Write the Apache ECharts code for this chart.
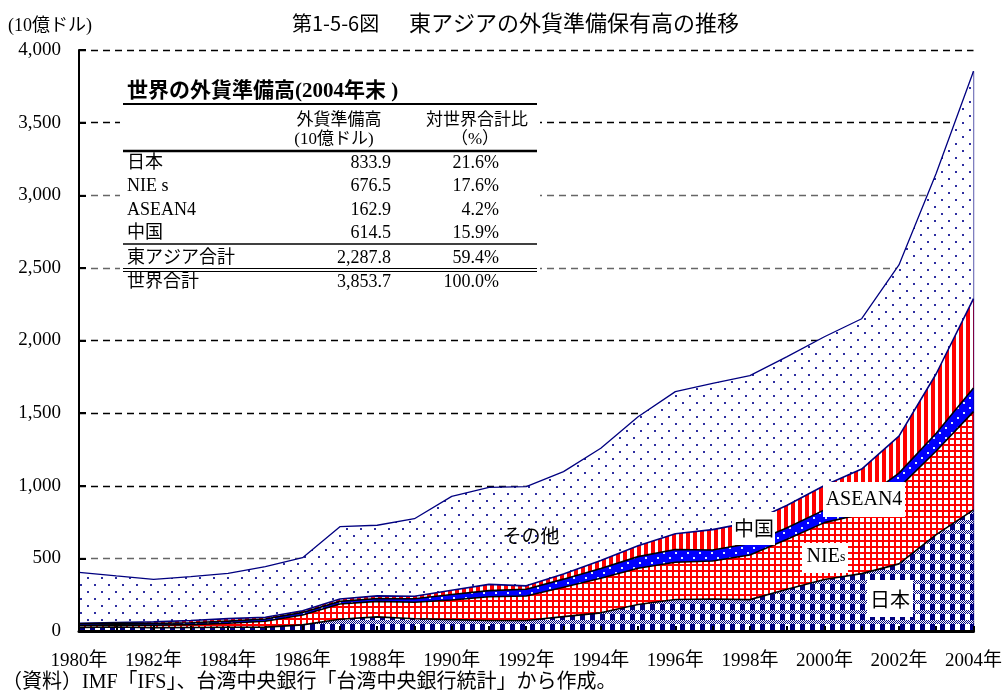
<!DOCTYPE html>
<html>
<head>
<meta charset="utf-8">
<script src="https://cdn.jsdelivr.net/npm/echarts@6/dist/echarts.min.js"></script>
<style>
html, body { margin: 0; padding: 0; background: #fff; }
#main { width: 1005px; height: 692px; }
</style>
</head>
<body>
<div id="main"></div>
<script>
// 東アジアの外貨準備保有高（10億ドル）
var years = ['1980年', '1981年', '1982年', '1983年', '1984年', '1985年', '1986年', '1987年', '1988年',
	'1989年', '1990年', '1991年', '1992年', '1993年', '1994年', '1995年', '1996年', '1997年',
	'1998年', '1999年', '2000年', '2001年', '2002年', '2003年', '2004年'];
var japan = [25, 28, 23, 24, 26, 27, 42, 81, 97, 84, 78, 72, 72, 99, 125, 183, 217, 220, 216, 288, 355, 395, 462, 663, 833.9];
var nies = [13, 14, 17, 20, 27, 40, 68, 105, 107, 114, 135, 164, 169, 202, 238, 249, 256, 262, 307, 343, 391, 410, 525, 576, 676.5];
var asean4 = [12, 12, 12, 13, 15, 16, 18, 18, 20, 24, 38, 42, 46, 56, 68, 80, 88, 76, 80, 80, 88, 95, 100, 122, 162.9];
var china = [3, 5, 11, 15, 17, 12, 11, 16, 18, 17, 29, 43, 24, 35, 55, 75, 108, 140, 145, 155, 168, 215, 255, 410, 614.5];
var others = [351, 320, 293, 302, 312, 348, 366, 498, 486, 534, 647, 668, 683, 705, 772, 888, 979, 1007, 1010, 1023, 1024, 1035, 1178, 1380, 1565.9];

// 表：世界の外貨準備高(2004年末)
var tableNames = ['日本', 'NIE s', 'ASEAN4', '中国', '東アジア合計', '世界合計'];
var tableValues = ['833.9', '676.5', '162.9', '614.5', '2,287.8', '3,853.7'];
var tableShares = ['21.6%', '17.6%', '4.2%', '15.9%', '59.4%', '100.0%'];

var serif = "'Liberation Serif', 'Noto Sans CJK JP', serif";
var gothic = "'Noto Sans CJK JP', sans-serif";

function tile(w, h, draw) {
	var c = document.createElement('canvas');
	c.width = w;
	c.height = h;
	draw(c.getContext('2d'));
	return { image: c, repeat: 'repeat' };
}

var fillJapan = tile(10, 10, function(ctx) {
	ctx.fillStyle = '#fff';
	ctx.fillRect(0, 0, 10, 10);
	ctx.fillStyle = '#000080';
	for (var y = 0; y < 4; y++) {
		for (var x = 0; x < 10; x++) {
			if ((x + y) % 2 == 0) ctx.fillRect(x, y, 1, 1);
		}
	}
	ctx.fillRect(0, 4, 5, 6);
});
var fillNies = tile(6, 6, function(ctx) {
	ctx.fillStyle = '#fff';
	ctx.fillRect(0, 0, 6, 6);
	ctx.fillStyle = '#ff0000';
	ctx.fillRect(0, 0, 2, 6);
	ctx.fillRect(0, 0, 6, 2);
});
var fillAsean = tile(12, 10, function(ctx) {
	ctx.fillStyle = '#0000ff';
	ctx.fillRect(0, 0, 12, 10);
	ctx.fillStyle = '#ddeeff';
	ctx.fillRect(3, 2, 2, 2);
	ctx.fillRect(9, 7, 2, 2);
});
var fillChina = tile(7, 4, function(ctx) {
	ctx.fillStyle = '#fff';
	ctx.fillRect(0, 0, 7, 4);
	ctx.fillStyle = '#ff0000';
	ctx.fillRect(0, 0, 4, 4);
});
var fillOthers = tile(14, 14, function(ctx) {
	ctx.fillStyle = '#fff';
	ctx.fillRect(0, 0, 14, 14);
	ctx.fillStyle = '#2e2ea0';
	ctx.fillRect(3, 3, 2, 2);
	ctx.fillRect(10, 10, 2, 2);
});

function areaSeries(name, data, fill, lineColor, z) {
	return {
		name: name,
		type: 'line',
		stack: 'total',
		data: data,
		symbol: 'none',
		z: z,
		lineStyle: { color: lineColor, width: 1.6 },
		areaStyle: { color: fill, opacity: 1 },
		emphasis: { disabled: true },
		silent: true
	};
}

var chart = echarts.init(document.getElementById('main'));

var last = years.length - 1;
var world2004 = japan[last] + nies[last] + asean4[last] + china[last] + others[last];

var seriesOthers = areaSeries('その他', others, fillOthers, '#000080', 6);
seriesOthers.lineStyle.width = 1.3;
seriesOthers.markLine = {
	silent: true,
	symbol: 'none',
	label: { show: false },
	lineStyle: { color: '#000080', width: 1.3, type: 'solid' },
	data: [[{ coord: [years[last], 0] }, { coord: [years[last], world2004] }]]
};

function txt(x, y, text, font, align, extra) {
	var el = {
		type: 'text',
		x: x,
		y: y,
		z: 100,
		style: {
			text: text,
			font: font,
			fill: '#000',
			align: align || 'left',
			textAlign: align || 'left',
			verticalAlign: 'middle',
			textVerticalAlign: 'middle'
		}
	};
	if (extra) {
		for (var k in extra) el.style[k] = extra[k];
	}
	return el;
}
function hline(x1, x2, y, w) {
	return {
		type: 'line', z: 100,
		shape: { x1: x1, y1: y, x2: x2, y2: y },
		style: { stroke: '#000', lineWidth: w }
	};
}
function box(x, y, w, h) {
	return {
		type: 'rect', z: 99,
		shape: { x: x, y: y, width: w, height: h },
		style: { fill: '#fff' }
	};
}

var graphics = [];
graphics.push(txt(8, 26, '(10億ドル)', '18px ' + serif));
graphics.push(txt(292, 23, '第1-5-6図', '20px ' + gothic));
graphics.push(txt(409, 23, '東アジアの外貨準備保有高の推移', '22px ' + gothic));
graphics.push(txt(2, 683, '（資料）IMF「IFS」、台湾中央銀行「台湾中央銀行統計」から作成。', '20px ' + serif));

// table
graphics.push(box(120, 80, 420, 212));
graphics.push(txt(127, 92, '世界の外貨準備高(2004年末 )', 'bold 21px ' + serif));
graphics.push(hline(123, 537, 104, 2));
graphics.push(txt(339, 119, '外貨準備高', '17px ' + gothic, 'center'));
graphics.push(txt(334, 140, '(10億ドル)', '17px ' + serif, 'center'));
graphics.push(txt(477, 119, '対世界合計比', '17px ' + gothic, 'center'));
graphics.push(txt(475, 140, '（%）', '17px ' + serif, 'center'));
graphics.push(hline(123, 537, 151, 2.5));
var rowY = [163, 186, 210, 233, 258, 282];
for (var i = 0; i < tableNames.length; i++) {
	graphics.push(txt(127, rowY[i], tableNames[i], '18px ' + serif));
	graphics.push(txt(391, rowY[i], tableValues[i], '18px ' + serif, 'right'));
	graphics.push(txt(499, rowY[i], tableShares[i], '18px ' + serif, 'right'));
}
graphics.push(hline(123, 537, 244, 1.5));
graphics.push(hline(123, 537, 268.5, 1.2));
graphics.push(hline(123, 537, 271.5, 1.2));

// series labels
graphics.push(txt(531, 536, 'その他', '19px ' + gothic, 'center'));
graphics.push(box(732, 512, 43, 33));
graphics.push(txt(754, 528, '中国', '20px ' + gothic, 'center'));
graphics.push(box(823, 482, 82, 35));
graphics.push(txt(864, 500, 'ASEAN4', '20px ' + serif, 'center'));
graphics.push(box(802, 543, 46, 30));
graphics.push({
	type: 'text', x: 826, y: 557, z: 100,
	style: {
		text: '{a|NIE}{b|s}',
		align: 'center', textAlign: 'center',
		verticalAlign: 'middle', textVerticalAlign: 'middle',
		rich: {
			a: { fontFamily: serif, fontSize: 20, fill: '#000', color: '#000' },
			b: { fontFamily: serif, fontSize: 14, fill: '#000', color: '#000' }
		}
	}
});
graphics.push(box(867, 580, 46, 37));
graphics.push(txt(890, 599, '日本', '20px ' + gothic, 'center'));

chart.setOption({
	animation: false,
	backgroundColor: '#fff',
	grid: { left: 79, right: 31, top: 50, bottom: 61, containLabel: false },
	xAxis: {
		type: 'category',
		data: years,
		boundaryGap: false,
		z: 20,
		axisLine: { lineStyle: { color: '#000', width: 3 } },
		axisTick: { show: true, inside: true, length: 5, interval: 0, lineStyle: { color: '#000', width: 2 } },
		axisLabel: { interval: 1, color: '#000', fontFamily: serif, fontSize: 19, margin: 21 },
		splitLine: { show: false }
	},
	yAxis: [{
		type: 'value',
		min: 0,
		max: 4000,
		interval: 500,
		axisLine: { show: false },
		axisTick: { show: false },
		axisLabel: { show: false },
		splitLine: {
			show: true,
			lineStyle: {
				type: [7, 5],
				width: 1.3,
				color: ['#000', '#666', '#000', '#000', '#000', '#666', '#666', '#000', '#000']
			}
		}
	}, {
		type: 'value',
		min: 0,
		max: 4000,
		interval: 500,
		position: 'left',
		z: 20,
		axisLine: { show: true, lineStyle: { color: '#000', width: 2 } },
		axisTick: { show: true, inside: true, length: 7, lineStyle: { color: '#000', width: 2 } },
		axisLabel: {
			color: '#000', fontFamily: serif, fontSize: 19, margin: 18,
			formatter: function(v) { return v.toLocaleString('en-US'); }
		},
		splitLine: { show: false }
	}],
	series: [
		areaSeries('日本', japan, fillJapan, '#000', 10),
		areaSeries('NIEs', nies, fillNies, '#000', 9),
		areaSeries('ASEAN4', asean4, fillAsean, '#000', 8),
		areaSeries('中国', china, fillChina, '#000080', 7),
		seriesOthers
	],
	graphic: graphics
});
</script>
</body>
</html>
